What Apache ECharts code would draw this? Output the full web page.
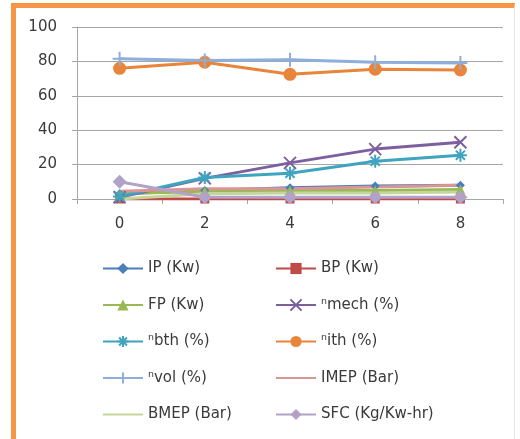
<!DOCTYPE html>
<html>
<head>
<meta charset="utf-8">
<script src="https://cdn.jsdelivr.net/npm/echarts@6/dist/echarts.min.js"></script>
<style>
  html, body { margin: 0; padding: 0; background: #fff; }
  #frame { position: absolute; left: 11px; top: 3px; width: 504px; height: 440px;
           border-left: 5px solid #F79646; border-top: 5px solid #F79646;
           border-right: 1px solid #E4E4E4; box-sizing: border-box; }
  #chart { position: absolute; left: 0; top: 0; width: 520px; height: 439px; }
</style>
</head>
<body>
<div id="frame"></div>
<div id="chart"></div>
<script>
// Load steps on the x axis
const loads = ['0', '2', '4', '6', '8'];
const yTicks = { min: 0, max: 100, step: 20 };

// Engine performance parameters per load step
const ip    = [3, 5, 6.5, 7.5, 8];
const bp    = [0, 0, 0, 0, 0];
const fp    = [3, 4.5, 5, 5, 5.5];
const mech  = [1, 12, 21, 29, 33];
const bth   = [1.5, 12.5, 15, 22, 25.5];
const ith   = [76, 79.5, 72.5, 75.5, 75];
const vol   = [81.5, 80.5, 81, 79.5, 79];
const imep  = [4.5, 6, 6, 7, 8];
const bmep  = [0, 3, 3.5, 3.5, 4];
const sfc   = [10, 1, 1, 1, 1];

const crossPath = 'path://M0,0L10,10M10,0L0,10';
const starPath = 'path://M5,0L5,10M0,5L10,5M1.5,1.5L8.5,8.5M8.5,1.5L1.5,8.5';
const plusPath = 'path://M5,0L5,10M0,5L10,5';

function line(name, data, color, symbol, size, stroked) {
  return {
    name, type: 'line', data,
    symbol: symbol || 'none',
    symbolSize: size || 8,
    showSymbol: !!symbol,
    lineStyle: { color, width: 3 },
    itemStyle: stroked
      ? { color: 'rgba(0,0,0,0)', borderColor: color, borderWidth: 2 }
      : { color, borderColor: color, borderWidth: 0 },
    emphasis: { disabled: true },
    animation: false
  };
}

const series = [
  line('IP (Kw)', ip, '#4A7EBB', 'diamond', 9),
  line('BP (Kw)', bp, '#BE4B48', 'rect', 9),
  line('FP (Kw)', fp, '#98B954', 'triangle', 10),
  line('\u207Fmech (%)', mech, '#7D5FA0', crossPath, 12, true),
  line('\u207Fbth (%)', bth, '#3FA4BF', starPath, 13, true),
  line('\u207Fith (%)', ith, '#E8853A', 'circle', 13),
  line('\u207Fvol (%)', vol, '#8EAEDC', plusPath, 14, true),
  line('IMEP (Bar)', imep, '#DA9694', null),
  line('BMEP (Bar)', bmep, '#C3D69B', null),
  line('SFC (Kg/Kw-hr)', sfc, '#B3A2C7', 'diamond', 14)
];

const textStyle = { fontFamily: 'DejaVu Sans', fontSize: 15, color: '#3A3A3A' };
const legendBase = {
  orient: 'vertical', itemWidth: 40, itemHeight: 14, itemGap: 21.5, padding: 0,
  textStyle: textStyle,
  selectedMode: false
};
// Series drawn without markers show a plain line in the legend
const plain = name => ({ name, itemStyle: { opacity: 0 } });

const chart = echarts.init(document.getElementById('chart'), null, { renderer: 'canvas' });
chart.setOption({
  animation: false,
  grid: { left: 77, right: 17, top: 27, bottom: 240 },
  xAxis: {
    type: 'category', data: loads, boundaryGap: true,
    axisLine: { lineStyle: { color: '#A6A6A6', width: 1 } },
    axisTick: { show: true, length: 5, lineStyle: { color: '#A6A6A6' } },
    axisLabel: Object.assign({ margin: 18 }, textStyle)
  },
  yAxis: {
    type: 'value', min: yTicks.min, max: yTicks.max, interval: yTicks.step,
    axisLine: { show: true, lineStyle: { color: '#A6A6A6' } },
    axisTick: { show: true, length: 5, lineStyle: { color: '#A6A6A6' } },
    splitLine: { lineStyle: { color: '#A6A6A6' } },
    axisLabel: Object.assign({ margin: 20 }, textStyle)
  },
  legend: [
    Object.assign({ left: 102, top: 261, data: ['IP (Kw)', 'FP (Kw)', '\u207Fbth (%)', '\u207Fvol (%)', plain('BMEP (Bar)')] }, legendBase),
    Object.assign({ left: 275, top: 261, data: ['BP (Kw)', '\u207Fmech (%)', '\u207Fith (%)', plain('IMEP (Bar)'), 'SFC (Kg/Kw-hr)'] }, legendBase)
  ],
  series
});
</script>
</body>
</html>
